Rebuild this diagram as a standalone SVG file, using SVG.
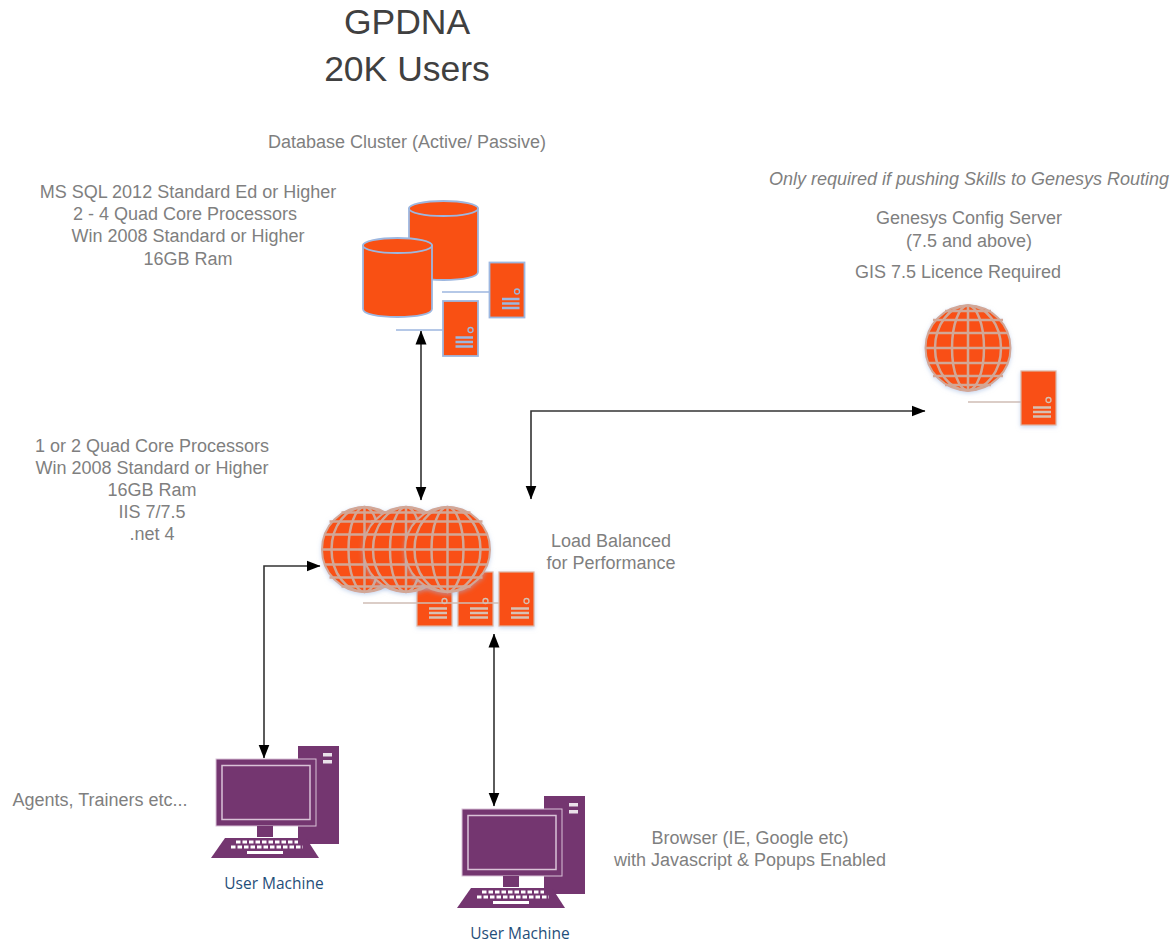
<svg xmlns="http://www.w3.org/2000/svg" width="1174" height="946" viewBox="0 0 1174 946">
<style>
text{font-family:"Liberation Sans",Arial,sans-serif;fill:#7f7f7f;font-size:18px;text-anchor:middle}
.title{font-size:35.500px;fill:#404040}
.it{font-style:italic}
.um{font-family:"Open Sans",sans-serif;font-size:15.500px;fill:#1f4e79}
.conn{fill:none;stroke:#333;stroke-width:1.6;marker-start:url(#a);marker-end:url(#a)}
.org{fill:#f95013}
.bl{stroke:#9db7e0;stroke-width:1.5}
.gr{stroke:#cfbdb4;stroke-width:1.5}
.pur{fill:#743670}
.wl{fill:#fff;opacity:.85}
</style>
<defs>
<marker id="a" viewBox="0 0 14 12" refX="13.500" refY="6" markerWidth="14" markerHeight="12" markerUnits="userSpaceOnUse" orient="auto-start-reverse"><path d="M0 0.500L14 6L0 11.500z" fill="#000"/></marker>
<filter id="h" x="-15%" y="-15%" width="130%" height="130%"><feDropShadow dx="0" dy="1.500" stdDeviation="2" flood-color="#9db7e0" flood-opacity=".55"/></filter>
<g id="srvB">
<rect x="0" y="0" width="35" height="55" class="org" stroke="#9db7e0" stroke-width="1.800"/>
<circle cx="27.500" cy="29" r="2.500" class="org" stroke="#9db7e0" stroke-width="1.300"/>
<path d="M12.500 36.500H30M12.500 41H30M12.500 45.500H30" stroke="#9db7e0" stroke-width="2.300" fill="none"/>
</g>
<g id="srvG" filter="url(#h)">
<rect x="0" y="0" width="35" height="54" class="org" stroke="#dcb5a3" stroke-width="1.200"/>
<circle cx="27.500" cy="29" r="2.500" class="org" stroke="#d7c0b4" stroke-width="1.300"/>
<path d="M12 36.500H30M12 41H30M12 45.500H30" stroke="#d7c0b4" stroke-width="2.300" fill="none"/>
</g>
<g id="globe" filter="url(#h)">
<circle r="42.500" class="org"/>
<g fill="none" stroke="#d2a797" stroke-width="2.500">
<circle r="42.500" stroke-width="2"/>
<path d="M0-42.500V42.500M-42.500 0H42.500"/>
<ellipse rx="16" ry="42.500"/>
<ellipse rx="33" ry="42.500"/>
<path d="M-40-15H40M-40 15H40M-35-28H35M-35 28H35M-23-37H23M-23 37H23"/>
</g>
</g>
<g id="cyl">
<path d="M0 7.500V71C0 76 15 79 34.500 79S69 76 69 71V7.500z" class="org" stroke="#9db7e0" stroke-width="1.800"/>
<ellipse cx="34.500" cy="7.500" rx="34.500" ry="7.500" class="org" stroke="#9db7e0" stroke-width="1.800"/>
</g>
<g id="pc">
<rect x="298" y="746" width="41" height="98" class="pur"/>
<rect x="323" y="753" width="9" height="3.500" class="wl"/>
<rect x="323" y="760" width="9" height="3.500" class="wl"/>
<rect x="216" y="759" width="100" height="67" class="pur" stroke="#d9c2d7" stroke-width="1"/>
<rect x="222" y="765.500" width="88" height="54" fill="none" stroke="#d9c2d7" stroke-width="1.500"/>
<rect x="257" y="826" width="16" height="11" class="pur"/>
<path d="M225 838H306L319 858H211z" class="pur"/>
<path d="M236 842H298M231 847H303" stroke="#fff" stroke-width="2.800" stroke-dasharray="4.500 2" fill="none"/>
<rect x="247" y="851" width="36" height="3" fill="#fff"/>
</g>
</defs>
<rect width="1174" height="946" fill="#fff"/>

<g id="connectors">
<path class="conn" d="M421 331V500"/>
<path class="conn" d="M531 499V411H925"/>
<path class="conn" d="M320 566H264V758"/>
<path class="conn" d="M494 634V806"/>
</g>

<g id="title"><text class="title" x="407" y="34">GPDNA</text><text class="title" x="407" y="81">20K Users</text></g>

<g id="database-cluster">
<use href="#cyl" x="409" y="201"/>
<use href="#cyl" x="363" y="238"/>
<path class="bl" d="M442 292H489M396 330H443" fill="none"/>
<use href="#srvB" x="489.500" y="262.500"/>
<use href="#srvB" x="443" y="301"/>
<text x="407" y="148">Database Cluster (Active/ Passive)</text>
<text x="188" y="198">MS SQL 2012 Standard Ed or Higher</text>
<text x="185" y="220">2 - 4 Quad Core Processors</text>
<text x="188" y="242">Win 2008 Standard or Higher</text>
<text x="188" y="265">16GB Ram</text>
</g>

<g id="genesys-config-server">
<use href="#globe" x="968" y="348"/>
<path class="gr" d="M968 402H1021"/>
<use href="#srvG" x="1021" y="371"/>
<text class="it" x="969" y="185">Only required if pushing Skills to Genesys Routing</text>
<text x="969" y="224">Genesys Config Server</text>
<text x="969" y="247">(7.5 and above)</text>
<text x="958" y="278">GIS 7.5 Licence Required</text>
</g>

<g id="web-servers">
<use href="#srvG" x="417" y="572"/>
<use href="#srvG" x="458" y="572"/>
<use href="#srvG" x="499" y="572"/>
<use href="#globe" x="364.500" y="549.500"/>
<use href="#globe" x="406" y="549.500"/>
<use href="#globe" x="447.500" y="549.500"/>
<path class="gr" d="M363 603H499"/>
<text x="152" y="452">1 or 2 Quad Core Processors</text>
<text x="152" y="474">Win 2008 Standard or Higher</text>
<text x="152" y="496">16GB Ram</text>
<text x="152" y="518">IIS 7/7.5</text>
<text x="152" y="540">.net 4</text>
<text x="611" y="547">Load Balanced</text>
<text x="611" y="569">for Performance</text>
</g>

<g id="user-machine-1">
<use href="#pc"/>
<text class="um" x="274" y="889">User Machine</text>
<text x="100" y="806">Agents, Trainers etc...</text>
</g>

<g id="user-machine-2">
<use href="#pc" x="246" y="50"/>
<text class="um" x="520" y="939">User Machine</text>
<text x="750" y="844">Browser (IE, Google etc)</text>
<text x="750" y="866">with Javascript &amp; Popups Enabled</text>
</g>
</svg>
